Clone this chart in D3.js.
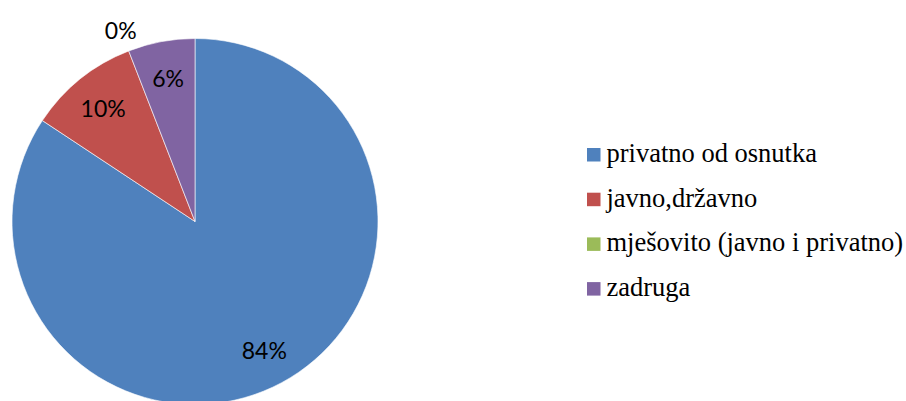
<!DOCTYPE html>
<html>
<head>
<meta charset="utf-8">
<script src="https://cdn.jsdelivr.net/npm/d3@7"></script>
<style>
  html, body { margin: 0; padding: 0; background: #fff; }
  svg { display: block; }
  .leg { font-family: "Times New Roman", "Liberation Serif", Tinos, serif; }
</style>
</head>
<body>
<svg id="chart" width="906" height="401"></svg>
<script>
const categories = ["privatno od osnutka", "javno,državno", "mješovito (javno i privatno)", "zadruga"];
const values = [84.3, 9.8, 0, 5.9];
const labels = ["84%", "10%", "0%", "6%"];
const colors = ["#4F81BD", "#C0504D", "#9BBB59", "#8064A2"];

const svg = d3.select("#chart");
const cx = 195, cy = 221.5, R = 183;

const data = categories.map((c, i) => ({ cat: c, value: values[i], label: labels[i], color: colors[i] }));

const pie = d3.pie().sort(null).value(d => d.value);
const arcs = pie(data);
const arc = d3.arc().innerRadius(0).outerRadius(R);
const labelArcIn = d3.arc().innerRadius(R * 0.8).outerRadius(R * 0.8);
const labelArcOut = d3.arc().innerRadius(R * 1.12).outerRadius(R * 1.12);

const g = svg.append("g").attr("transform", `translate(${cx},${cy})`);

g.selectAll("path.slice")
  .data(arcs)
  .join("path")
  .attr("class", "slice")
  .attr("d", arc)
  .attr("fill", d => d.data.color)
  .attr("stroke", "#ffffff")
  .attr("stroke-width", d => d.data.value > 0 ? 0.6 : 0);

g.selectAll("text.lbl")
  .data(arcs)
  .join("text")
  .attr("class", "lbl")
  .attr("transform", d => {
    const a = d.data.value > 0 ? labelArcIn : labelArcOut;
    const p = a.centroid(d);
    return `translate(${p[0]},${p[1]})`;
  })
  .attr("text-anchor", "middle")
  .attr("dominant-baseline", "central")
  .attr("font-family", "Lato, 'Open Sans', sans-serif")
  .attr("font-size", 23)
  .attr("fill", "#000")
  .text(d => d.data.label);

// Legend
const legend = svg.append("g").attr("transform", "translate(587,148)");
const rowH = 44.7;
const items = legend.selectAll("g.item")
  .data(data)
  .join("g")
  .attr("class", "item")
  .attr("transform", (d, i) => `translate(0,${i * rowH})`);

items.append("rect")
  .attr("x", 0).attr("y", 0)
  .attr("width", 13.5).attr("height", 13.5)
  .attr("fill", d => d.color);

items.append("text")
  .attr("class", "leg")
  .attr("x", 19.5)
  .attr("y", 14)
  .attr("font-size", 26.5)
  .attr("fill", "#000")
  .text(d => d.cat);
</script>
</body>
</html>
